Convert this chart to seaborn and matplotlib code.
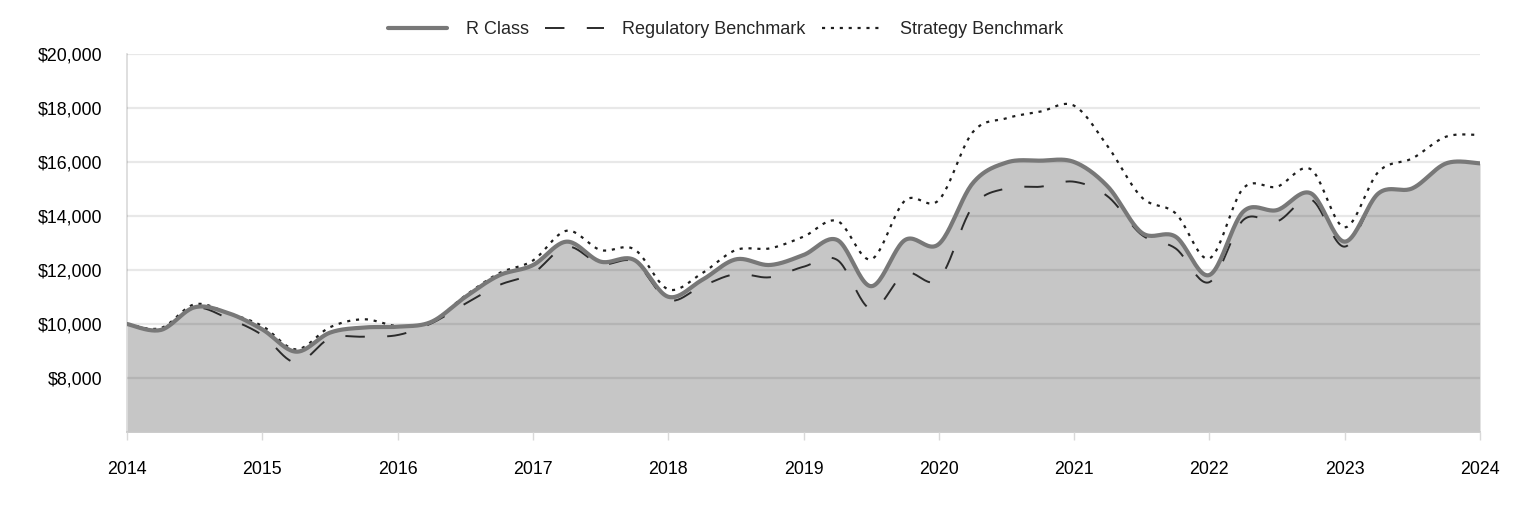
import numpy as np
import pandas as pd
import matplotlib
matplotlib.use("Agg")
import matplotlib.pyplot as plt
import seaborn as sns

# ---- data (quarterly) ----
quarters = [2014 + 0.25 * i for i in range(41)]
r_class = [10000, 9780, 10620, 10400, 9800, 8975, 9680, 9870, 9900, 10080,
           11000, 11800, 12180, 13050, 12310, 12370, 11010, 11630, 12395, 12185,
           12555, 13110, 11400, 13110, 12960, 15210, 15980, 16050, 16000, 15085,
           13380, 13235, 11815, 14160, 14220, 14840, 13050, 14840, 15025, 15950,
           15950]
regulatory = [10000, 9820, 10600, 10200, 9590, 8570, 9470, 9530, 9590, 10025,
              10750, 11440, 11880, 12865, 12220, 12300, 10890, 11405, 11850, 11730,
              12120, 12370, 10550, 11880, 11655, 14345, 15025, 15085, 15270, 14720,
              13300, 12800, 11550, 13850, 13800, 14615, 12865, 14840, 15025, 15950,
              15950]
strategy = [10000, 9850, 10730, 10400, 9925, 9060, 9880, 10175, 9925, 10085,
            11050, 11880, 12350, 13455, 12740, 12765, 11285, 11880, 12740, 12800,
            13235, 13815, 12395, 14570, 14590, 17100, 17620, 17865, 18085, 16570,
            14690, 14100, 12430, 15025, 15085, 15730, 13580, 15640, 16135, 16940,
            17000]
year_ticks = list(range(2014, 2025))
y_ticks = [8000, 10000, 12000, 14000, 16000, 18000, 20000]
y_min, y_max = 6000, 20000


def smooth(x, y, n=24):
    """Catmull-Rom rendering of a smoothed line through the points."""
    x = np.asarray(x, float)
    y = np.asarray(y, float)
    xs, ys = [], []
    m = len(x)
    for i in range(m - 1):
        i0, i3 = max(i - 1, 0), min(i + 2, m - 1)
        t = np.linspace(0, 1, n, endpoint=False)
        for arr, out in ((x, xs), (y, ys)):
            p0, p1, p2, p3 = arr[i0], arr[i], arr[i + 1], arr[i3]
            out.append(0.5 * (2 * p1 + (-p0 + p2) * t
                              + (2 * p0 - 5 * p1 + 4 * p2 - p3) * t ** 2
                              + (-p0 + 3 * p1 - 3 * p2 + p3) * t ** 3))
    xs.append([x[-1]])
    ys.append([y[-1]])
    return np.concatenate(xs), np.concatenate(ys)


sns.set_theme(style="white")
plt.rcParams["font.family"] = ["Liberation Sans", "DejaVu Sans"]

fig = plt.figure(figsize=(15.24, 5.16), dpi=100)
ax = fig.add_axes([127 / 1524, 1 - 432 / 516, (1480 - 127) / 1524, (432 - 54) / 516])

xr, yr = smooth(quarters, r_class)
xg, yg = smooth(quarters, regulatory)
xs_, ys_ = smooth(quarters, strategy)

ax.fill_between(xr, y_min, yr, color="#c6c6c6", linewidth=0, zorder=1)

df_r = pd.DataFrame({"x": xr, "y": yr})
df_g = pd.DataFrame({"x": xg, "y": yg})
df_s = pd.DataFrame({"x": xs_, "y": ys_})

sns.lineplot(data=df_r, x="x", y="y", ax=ax, color="#787878", linewidth=3.0,
             sort=False, estimator=None, zorder=4, label="R Class")
sns.lineplot(data=df_g, x="x", y="y", ax=ax, color="#2b2b2b", linewidth=1.4,
             sort=False, estimator=None, zorder=3, label="Regulatory Benchmark",
             linestyle=(0, (10, 11.5)))
sns.lineplot(data=df_s, x="x", y="y", ax=ax, color="#1e1e1e", linewidth=1.6,
             sort=False, estimator=None, zorder=3, label="Strategy Benchmark",
             linestyle=(0, (1.4, 2.6)))

ax.set_xlim(2014, 2024)
ax.set_ylim(y_min, y_max)
ax.set_xticks(year_ticks)
ax.set_xticklabels([str(y) for y in year_ticks])
ax.set_yticks(y_ticks)
ax.set_yticklabels([f"${v:,.0f}" for v in y_ticks])
ax.set_xlabel("")
ax.set_ylabel("")

ax.set_axisbelow(False)
ax.grid(axis="y", color="black", alpha=0.09, linewidth=1.6)
ax.grid(axis="x", visible=False)

for s in ["top", "right"]:
    ax.spines[s].set_visible(False)
ax.spines["left"].set_color("#d9d9d9")
ax.spines["bottom"].set_color("#c8c8c8")
ax.spines["left"].set_linewidth(1.2)
ax.spines["bottom"].set_linewidth(1.2)

ax.tick_params(axis="x", direction="out", length=6, width=1.0, color="#d9d9d9",
               pad=15, labelsize=12.8, labelcolor="#000000", bottom=True)
ax.tick_params(axis="y", length=0, pad=18, labelsize=12.8, labelcolor="#000000")

handles, labels = ax.get_legend_handles_labels()
ax.get_legend().remove()
fig.legend(handles, labels, loc="center", bbox_to_anchor=(0.476, 0.943), ncol=3,
           frameon=False, fontsize=13, handlelength=3.3, handletextpad=1.0,
           columnspacing=0.9)

fig.savefig("out.png", dpi=100)
